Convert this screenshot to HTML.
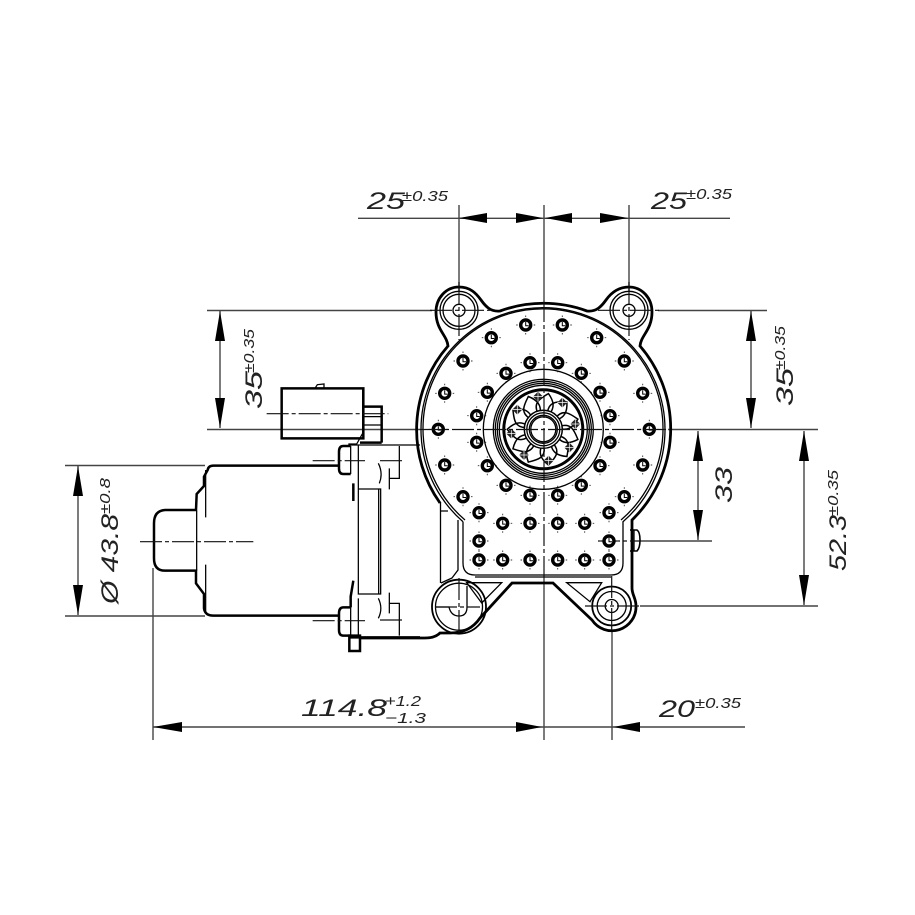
<!DOCTYPE html>
<html><head><meta charset="utf-8"><style>
html,body{margin:0;padding:0;background:#fff}
svg{display:block}
text{font-family:"Liberation Sans",sans-serif;font-style:italic;fill:#222}
.d{stroke:#444;stroke-width:1.4;fill:none}
.c{stroke:#111;stroke-width:1.2;fill:none;stroke-dasharray:22 3 4 3}
.t{stroke:#000;stroke-width:1.3;fill:none}
.k{stroke:#000;stroke-width:2.8;fill:none}
.z .t{stroke-width:3.8}.z .k{stroke-width:7.5}.z .c{stroke-width:3.6;stroke-dasharray:66 9 12 9}
</style></head><body>
<svg width="915" height="915" viewBox="0 0 915 915" xmlns="http://www.w3.org/2000/svg">
<defs>
<g id="h"><circle r="5" fill="#fff" stroke="#000" stroke-width="3.4"/><path d="M0,-3V.8H3" stroke="#000" stroke-width="1" fill="none"/><path d="M0,-9.500V-8M0,8V9.500M-9.500,0H-8M8,0H9.500" stroke="#333" stroke-width=".9"/></g>
<g id="m"><path d="M0,-5L5,0L0,5L-5,0Z" fill="#222"/><path d="M-5,0H5M0,-5V5" stroke="#fff" stroke-width=".7"/></g>
<path id="p" d="M-7,-16C-13,-26 -5,-31 2,-36C9,-28 9,-22 5,-16" fill="none" stroke="#000" stroke-width="1.500"/>
</defs>

<!-- dimension lines -->
<path class="d" d="M358,218.300H730M459,205V292M629,205V292M544,205V300M544,575V740M612,632V740M153,568V740M153,727H745"/>
<path class="d" d="M207,310.500H432M658,310.500H767M207,429.500H420M668,429.500H818M65,465.500H205M65,616H205M640,606H818M640,541H712"/>
<path class="d" d="M220,311V428M751,311V428M78,466V615M698,431V540M804,431V605"/>
<g fill="#000">
<path d="M459,218L487,213V223ZM543,218L516,213V223ZM545,218L572,213V223ZM628,218L600,213V223Z"/>
<path d="M220,311L215,341H225ZM220,428L215,398H225ZM751,311L746,341H756ZM751,428L746,398H756Z"/>
<path d="M78,466L73,496H83ZM78,615L73,585H83ZM698,431L693,461H703ZM698,540L693,510H703ZM804,431L799,461H809ZM804,605L799,575H809Z"/>
<path d="M153,727L182,722V732ZM542,727L516,722V732ZM613,727L640,722V732Z"/>
</g>

<!-- motor, connector -->
<g class="z" transform="translate(140,370) scale(.33333)">
<path class="k" d="M600,287H220Q205,287 203,300L192,320V348L170,372L168,420H75Q42,422 42,460V565Q42,602 75,602H168V640L192,672V715Q195,737 220,737H600"/>
<path class="t" d="M197,300V442M197,584V725M170,422V602"/>
<path class="k" d="M425,55H670V205H425ZM670,110H725V218M660,218H725"/>
<path class="t" d="M668,140H722M668,165H722M668,60V190L650,222H625"/>
<path class="t" d="M525,55L532,44L552,42V55"/>
<path class="k" d="M632,228H610Q597,228 597,245V295Q597,312 610,312H632M632,712H610Q597,712 597,730V780Q597,797 610,797H632"/>
<path class="k" d="M640,340V393M640,632L632,680V712"/>
<path class="t" d="M632,228V312M632,712V797M655,225V672H722V357H655M716,357V672M655,685V797M625,225H840M778,228V325H748M748,295V358M715,280Q730,310 718,340M715,685Q730,715 715,745M748,668V730M748,700H778V797"/>
<path class="k" d="M630,802H840M628,797H660V843H628Z"/>
<path class="c" d="M380,131H745M518,272H675M720,272H792M518,752H675M720,750H792M0,515H340"/>
</g>

<!-- housing outer -->
<path class="k" d="M440,503A127,127 0 0 1 448,346C447,335 436,330 436,312C436,298 446,287 459,287C470,287 476,293 481,300C486,307 491,312 500,311A126.300,126.300 0 0 1 587,311C596,312 601,307 606,300C611,293 618,287 629,287C642,287 652,298 652,312C652,330 641,335 640,346A127,127 0 0 1 632,520V588C632,595 636,598 636,606A24,24 0 0 1 592,620L553,583H512L480,618Q470,633 450,633H440Q435,638 425,638H360"/>
<path class="t" d="M463,521.700V563Q463,575 475,575H611Q623,575 623,563V521.700A122,122 0 1 0 463,521.700"/>
<path class="t" d="M465,520A120,120 0 1 1 621,520M475,577H611"/>
<path class="t" d="M440.500,502V583M441,511H448M458,520V570L452,578L441,583M466.700,582.700H501.700L481.700,603ZM566.700,582.700H601.700L590,601.700Z"/>
<path class="k" style="stroke-width:1.600" d="M630,530H637Q640,532 640,540Q640,548 637,551H630"/>
<path class="t" d="M634,530V551"/>

<!-- bosses -->
<g class="t">
<circle cx="459" cy="310.300" r="19"/><circle cx="459" cy="310.300" r="16"/><circle cx="459" cy="310.300" r="6"/>
<circle cx="629" cy="310.300" r="19"/><circle cx="629" cy="310.300" r="16"/><circle cx="629" cy="310.300" r="6"/>
<circle cx="611.700" cy="606" r="19.500" style="stroke-width:1.800"/><circle cx="611.700" cy="606" r="14.500"/><circle cx="611.700" cy="606" r="6.500"/>
<circle cx="459" cy="606.700" r="27" style="stroke-width:1.800"/><circle cx="459" cy="606.700" r="23.500"/>
<path d="M436,607H449Q451,616 459,616Q467,616 467,607V586"/>
</g>
<path class="c" d="M459,282V340M430,310.300H490M629,282V340M598,310.300H660M611.700,576V632M585,606H640M459,578V634M435,607H480M598,541H640"/>

<!-- holes -->
<g>
<use href="#h" x="525.700" y="325"/><use href="#h" x="562.300" y="325"/><use href="#h" x="491.300" y="337.700"/><use href="#h" x="596.700" y="337.700"/>
<use href="#h" x="463" y="361"/><use href="#h" x="624.300" y="361"/><use href="#h" x="530" y="362.700"/><use href="#h" x="557.700" y="362.700"/>
<use href="#h" x="506" y="373.300"/><use href="#h" x="581.300" y="373.300"/>
<use href="#h" x="444.700" y="393.300"/><use href="#h" x="487.300" y="392.300"/><use href="#h" x="600" y="392.300"/><use href="#h" x="642.700" y="393.300"/>
<use href="#h" x="476.700" y="415.700"/><use href="#h" x="610" y="415.700"/><use href="#h" x="438.300" y="429.300"/><use href="#h" x="649.300" y="429.300"/>
<use href="#h" x="476.700" y="442.300"/><use href="#h" x="610" y="442.300"/>
<use href="#h" x="444.700" y="465"/><use href="#h" x="487.300" y="465.700"/><use href="#h" x="600" y="465.700"/><use href="#h" x="642.700" y="465"/>
<use href="#h" x="506" y="485.300"/><use href="#h" x="581.300" y="485.300"/>
<use href="#h" x="463" y="496.700"/><use href="#h" x="530" y="495.300"/><use href="#h" x="557.700" y="495.300"/><use href="#h" x="624.300" y="496.700"/>
<use href="#h" x="479" y="512.700"/><use href="#h" x="609" y="512.700"/>
<use href="#h" x="502.700" y="523.300"/><use href="#h" x="530" y="523.300"/><use href="#h" x="557.700" y="523.300"/><use href="#h" x="584.700" y="523.300"/>
<use href="#h" x="479" y="541"/><use href="#h" x="609" y="541"/>
<use href="#h" x="479" y="560"/><use href="#h" x="502.700" y="560"/><use href="#h" x="530" y="560"/><use href="#h" x="557.700" y="560"/><use href="#h" x="584.700" y="560"/><use href="#h" x="609" y="560"/>
</g>

<!-- hub -->
<g transform="translate(543.300,429.300)">
<circle r="60" class="t" style="fill:none"/>
<g class="t"><circle r="50"/><circle r="48"/><circle r="46"/><circle r="44"/></g>
<circle r="39.500" fill="#fff" stroke="#000" stroke-width="3"/>
<g>
<use href="#p" transform="rotate(5)"/><use href="#p" transform="rotate(37.700)"/><use href="#p" transform="rotate(70.500)"/><use href="#p" transform="rotate(103.200)"/><use href="#p" transform="rotate(135.900)"/><use href="#p" transform="rotate(168.600)"/><use href="#p" transform="rotate(201.400)"/><use href="#p" transform="rotate(234.100)"/><use href="#p" transform="rotate(266.800)"/><use href="#p" transform="rotate(299.500)"/><use href="#p" transform="rotate(332.300)"/>
</g>
<use href="#m" x="-5.300" y="-32.700"/><use href="#m" x="19" y="-26.700"/><use href="#m" x="32" y="-5.300"/><use href="#m" x="26" y="18.300"/><use href="#m" x="5.300" y="31.300"/><use href="#m" x="-19.300" y="25.700"/><use href="#m" x="-32" y="4.300"/><use href="#m" x="-26" y="-19.700"/>
<circle r="19" fill="#fff" stroke="#000" stroke-width="1.500"/>
<circle r="16.500" class="t"/><circle r="14" class="t"/><circle r="12.500" class="t"/>
</g>
<path class="c" d="M544,300V575M420,429.500H668"/>

<!-- labels -->
<g font-size="24">
<text x="367" y="209" textLength="38" lengthAdjust="spacingAndGlyphs">25</text>
<text x="651" y="209" textLength="36" lengthAdjust="spacingAndGlyphs">25</text>
<text x="402" y="201" font-size="15" textLength="46" lengthAdjust="spacingAndGlyphs">±0.35</text>
<text x="686" y="199" font-size="15" textLength="46" lengthAdjust="spacingAndGlyphs">±0.35</text>
<text x="301" y="716" textLength="86" lengthAdjust="spacingAndGlyphs">114.8</text>
<text x="385" y="706" font-size="15" textLength="36" lengthAdjust="spacingAndGlyphs">+1.2</text>
<text x="385" y="723" font-size="15" textLength="41" lengthAdjust="spacingAndGlyphs">−1.3</text>
<text x="659" y="717" textLength="36" lengthAdjust="spacingAndGlyphs">20</text>
<text x="695" y="708" font-size="15" textLength="46" lengthAdjust="spacingAndGlyphs">±0.35</text>
<g transform="translate(262,409) rotate(-90)"><text x="0" y="0" textLength="38" lengthAdjust="spacingAndGlyphs">35</text><text x="36" y="-8" font-size="15" textLength="44" lengthAdjust="spacingAndGlyphs">±0.35</text></g>
<g transform="translate(793,406) rotate(-90)"><text x="0" y="0" textLength="38" lengthAdjust="spacingAndGlyphs">35</text><text x="36" y="-8" font-size="15" textLength="44" lengthAdjust="spacingAndGlyphs">±0.35</text></g>
<g transform="translate(118,604) rotate(-90)"><text x="0" y="0" textLength="90" lengthAdjust="spacingAndGlyphs">Ø 43.8</text><text x="90" y="-8" font-size="15" textLength="36" lengthAdjust="spacingAndGlyphs">±0.8</text></g>
<text transform="translate(732,503) rotate(-90)" textLength="36" lengthAdjust="spacingAndGlyphs">33</text>
<g transform="translate(846,571) rotate(-90)"><text x="0" y="0" textLength="56" lengthAdjust="spacingAndGlyphs">52.3</text><text x="55" y="-8" font-size="15" textLength="46" lengthAdjust="spacingAndGlyphs">±0.35</text></g>
</g>
</svg>
</body></html>
